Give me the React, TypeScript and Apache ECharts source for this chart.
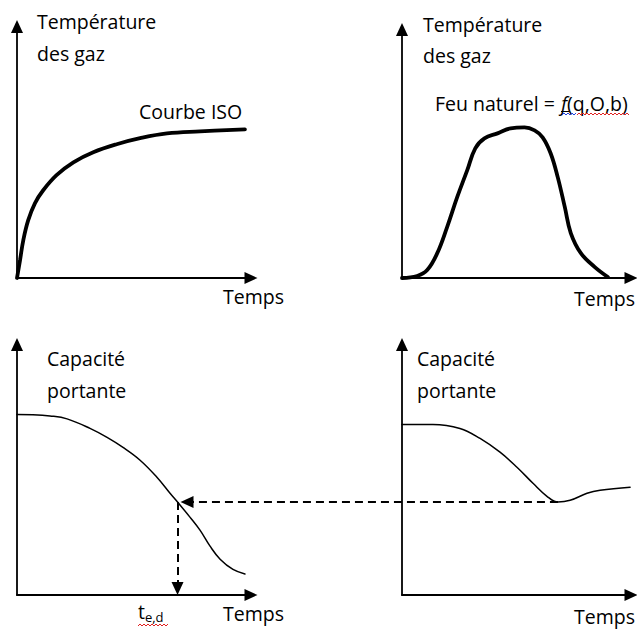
import React, { useEffect, useRef } from "react";
import * as echarts from "echarts";

// Panel 1 : courbe ISO (température des gaz)
const isoTime = [0, 1.3, 2.7, 4.8, 7.7, 11.2, 16.9, 24.1, 32.6, 42.6, 52.6, 64.1, 78.2, 97.4];
const isoTemp = [0, 7.1, 15.1, 23.0, 29.8, 34.9, 40.9, 46.0, 50.0, 53.2, 55.6, 57.5, 58.3, 59.1];

// Panel 2 : feu naturel (température des gaz)
const fireTime = [0, 6.6, 11.0, 15.4, 19.7, 24.1, 28.5, 32.0, 36.0, 41.7, 47.4, 53.5, 57.9, 61.4, 64.9, 68.0, 71.1, 73.7, 78.1, 84.2, 89.9];
const fireTemp = [0, 0.8, 3.2, 10.0, 20.5, 32.5, 43.4, 52.2, 56.2, 58.2, 60.2, 60.6, 59.4, 56.6, 50.2, 40.6, 28.5, 18.1, 10.0, 4.4, 0.4];

// Panel 3 : capacité portante sous feu ISO
const capIsoTime = [0, 6.8, 14.1, 21.4, 31.2, 38.5, 45.3, 52.6, 59.8, 65.4, 68.6, 73.9, 78.2, 82.5, 86.8, 92.3, 97.4];
const capIsoValue = [72.1, 72.0, 71.5, 70.3, 66.5, 62.9, 58.9, 53.8, 47.0, 40.6, 37.1, 31.1, 25.9, 19.5, 14.3, 10.2, 8.4];

// Panel 4 : capacité portante sous feu naturel
const capFireTime = [0, 13.5, 25.3, 34.1, 42.8, 50.2, 57.2, 63.3, 68.1, 73.4, 80.8, 86.5, 99.6];
const capFireValue = [68.1, 68.1, 66.5, 62.5, 57.0, 51.0, 44.6, 39.4, 37.1, 37.8, 40.6, 41.8, 43.0];

const FONT = "'Open Sans', sans-serif";
const FS = 19.5;

const zip = (a: number[], b: number[]) => a.map((v, i) => [v, b[i]]);

const grids = [
  { left: 17, top: 26.5, width: 234, height: 251.5 },
  { left: 402, top: 29.5, width: 229, height: 248.5 },
  { left: 17, top: 344.5, width: 234, height: 250.5 },
  { left: 402, top: 344.5, width: 229, height: 250.5 },
];

function axis(i: number) {
  return {
    type: "value",
    gridIndex: i,
    min: 0,
    max: 100,
    axisLine: {
      show: true,
      onZero: false,
      symbol: ["none", "triangle"],
      symbolSize: [12, 13],
      lineStyle: { color: "#000", width: 1.8 },
    },
    axisTick: { show: false },
    axisLabel: { show: false },
    splitLine: { show: false },
  };
}

function txt(text: string, x: number, y: number, extra: any = {}) {
  return {
    type: "text",
    x,
    y,
    silent: true,
    style: { text, fill: "#000", fontSize: FS, fontFamily: FONT, align: "left", verticalAlign: "middle", ...extra },
  };
}

function wavy(x0: number, x1: number, y: number, color: string) {
  const pts: number[][] = [];
  let i = 0;
  for (let x = x0; x <= x1; x += 2, i++) pts.push([x, y + (i % 2 ? -1 : 1)]);
  return { type: "polyline", silent: true, shape: { points: pts }, style: { stroke: color, lineWidth: 1, fill: null } };
}

function curve(i: number, t: number[], v: number[], w: number) {
  return {
    type: "line",
    xAxisIndex: i,
    yAxisIndex: i,
    data: zip(t, v),
    smooth: 0.4,
    symbol: "none",
    silent: true,
    lineStyle: { color: "#000", width: w, cap: "round" },
  };
}

export default function App() {
  const ref = useRef<HTMLDivElement>(null);
  useEffect(() => {
    if (!ref.current) return;
    const chart = echarts.init(ref.current, undefined, { renderer: "svg" });
    chart.setOption({
      animation: false,
      backgroundColor: "#fff",
      grid: grids.map((g) => ({ ...g, outerBoundsMode: "none" })),
      xAxis: [0, 1, 2, 3].map(axis),
      yAxis: [0, 1, 2, 3].map(axis),
      series: [
        curve(0, isoTime, isoTemp, 3.8),
        curve(1, fireTime, fireTemp, 3.8),
        curve(2, capIsoTime, capIsoValue, 1.5),
        curve(3, capFireTime, capFireValue, 1.5),
      ],
      graphic: [
        txt("Température", 37, 21.5),
        txt("des gaz", 37, 53),
        txt("Courbe ISO", 139, 111.5),
        txt("Temps", 223, 296.5),
        txt("Température", 423, 24),
        txt("des gaz", 423, 55),
        txt("Feu naturel =", 435, 103.5),
        txt("f(q,O,b)", 561, 103.5, {
          text: "{i|f}{n|(q,O,b)}",
          rich: {
            n: { fontSize: FS, fontFamily: FONT, fill: "#000" },
            i: { fontSize: FS, fontFamily: FONT, fill: "#000", fontStyle: "italic" },
          },
        }),
        { type: "line", silent: true, shape: { x1: 561, y1: 111.5, x2: 569, y2: 111.5 }, style: { stroke: "#000", lineWidth: 1 } },
        wavy(562, 577, 114, "#2040e0"),
        wavy(577, 630, 114, "#e02020"),
        txt("Temps", 574, 298.5),
        txt("Capacité", 47, 358.5),
        txt("portante", 47, 390),
        txt("Temps", 223, 613.5),
        txt("te,d", 138, 611, {
          text: "{t|t}{s|e,d}",
          rich: {
            t: { fontSize: FS, fontFamily: FONT, fill: "#000", lineHeight: 24 },
            s: { fontSize: 13, fontFamily: FONT, fill: "#000", verticalAlign: "bottom", lineHeight: 13 },
          },
        }),
        wavy(138, 168, 625, "#e02020"),
        txt("Capacité", 417, 358.5),
        txt("portante", 417, 390),
        txt("Temps", 574, 616.5),
      ],
    });

    // dashed arrows linking the minimum of the natural-fire capacity to t_e,d
    let minIdx = 0;
    capFireValue.forEach((v, i) => { if (v < capFireValue[minIdx]) minIdx = i; });
    let tIdx = 0;
    capIsoValue.forEach((v, i) => {
      if (Math.abs(v - capFireValue[minIdx]) < Math.abs(capIsoValue[tIdx] - capFireValue[minIdx])) tIdx = i;
    });
    const p = chart.convertToPixel({ gridIndex: 2 }, [capIsoTime[tIdx], capIsoValue[tIdx]]) as number[];
    const q = chart.convertToPixel({ gridIndex: 3 }, [capFireTime[minIdx], capFireValue[minIdx]]) as number[];
    const o = chart.convertToPixel({ gridIndex: 2 }, [capIsoTime[tIdx], 0]) as number[];
    const half = 6.5;
    chart.setOption({
      series: [
        {},
        {},
        {
          markLine: {
            silent: true,
            symbol: ["none", "triangle"],
            symbolSize: [12, 13],
            label: { show: false },
            emphasis: { disabled: true },
            lineStyle: { type: [8, 5], color: "#000", width: 2 },
            data: [
              [{ x: q[0], y: q[1] }, { x: p[0] + 3 + half, y: q[1] }],
              [{ x: p[0], y: q[1] }, { x: p[0], y: o[1] - half }],
            ],
          },
        },
        {},
      ],
    });

    return () => chart.dispose();
  }, []);
  return (
    <div
      ref={ref}
      style={{ position: "fixed", left: 0, top: 0, width: 637, height: 629, background: "#fff" }}
    />
  );
}
